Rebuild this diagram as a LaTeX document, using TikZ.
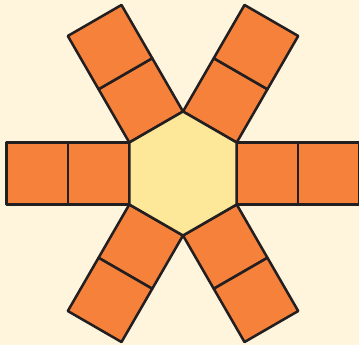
\documentclass[tikz,border=0pt]{standalone}
\definecolor{cream}{HTML}{FFF4DC}
\definecolor{armorange}{HTML}{F5813A}
\definecolor{hexyellow}{HTML}{FDE799}
\definecolor{edge}{HTML}{231F20}
\tikzset{
    cell/.style={draw=edge, fill=armorange, line width=1.9pt, line join=round},
    hexcell/.style={draw=edge, fill=hexyellow, line width=1.9pt, line join=round}
}
\begin{document}
\begin{tikzpicture}[x=0.75pt, y=0.75pt]
    % fond
    \fill[cream] (0,0) rectangle (359,345);
    \useasboundingbox (0,0) rectangle (359,345);

    \begin{scope}[shift={(183,171.5)}]
        % bras de deux carres sur chaque cote
        \foreach \a in {0,60,...,300} {
            \begin{scope}[rotate=\a]
                \draw[cell] (53.7,-31) rectangle (115.2,31);
                \draw[cell] (115.2,-31) rectangle (176.7,31);
            \end{scope}
        }
        % hexagone central
        \draw[hexcell] (30:62) -- (90:62) -- (150:62) -- (210:62) -- (270:62) -- (330:62) -- cycle;
    \end{scope}
\end{tikzpicture}
\end{document}
